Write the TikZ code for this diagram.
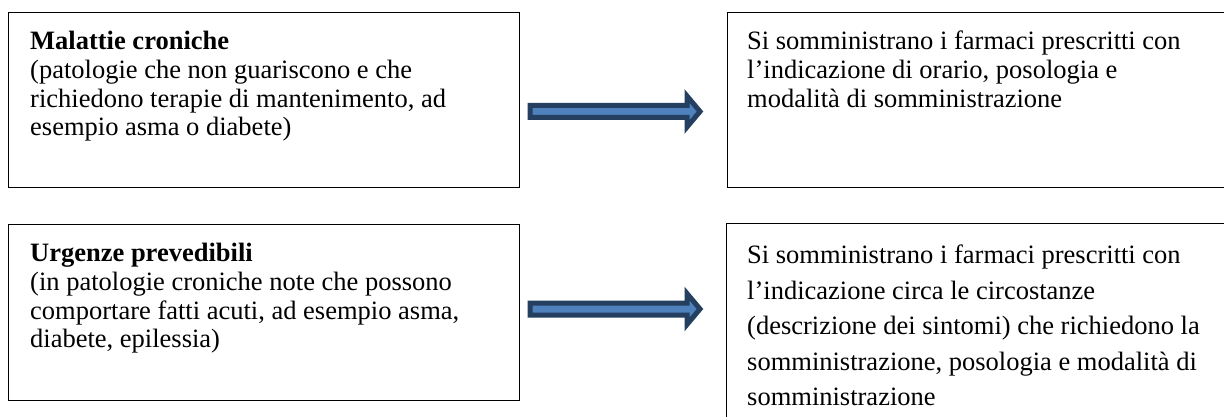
\documentclass[tikz,border=0pt]{standalone}
\usepackage{fontspec}
\setmainfont{Liberation Serif}
\begin{document}
\begin{tikzpicture}[x=1pt,y=-1pt,
  box/.style={draw=black,line width=1.4pt,rectangle,inner sep=0pt},
  txt/.style={anchor=north west,inner sep=0pt,align=left,
    font=\fontsize{26.5}{28.8}\selectfont},
  txtwide/.style={txt,font=\fontsize{26.5}{35.5}\selectfont},
  bigarrow/.style={draw=arrowline,fill=arrowfill,line width=5pt,line join=miter,miter limit=20}]
\definecolor{arrowfill}{HTML}{4F81BD}
\definecolor{arrowline}{HTML}{243F60}
\useasboundingbox (0,0) rectangle (1224,417);
\clip (0,0) rectangle (1224,417);
\fill[white] (0,0) rectangle (1224,417);
% boxes
\node[box,minimum width=511pt,minimum height=175pt,anchor=north west] (b1) at (8,12) {};
\node[box,minimum width=520pt,minimum height=175pt,anchor=north west] (b2) at (727,12) {};
\node[box,minimum width=511pt,minimum height=176pt,anchor=north west] (b3) at (8,224) {};
\node[box,minimum width=520pt,minimum height=230pt,anchor=north west] (b4) at (726,223) {};
% texts
\node[txt] (t1) at ([xshift=22pt,yshift=-19pt]b1.north west)
  {\textbf{Malattie croniche}\\(patologie che non guariscono e che\\richiedono terapie di mantenimento, ad\\esempio asma o diabete)};
\node[txt] (t2) at ([xshift=20pt,yshift=-19pt]b2.north west)
  {Si somministrano i farmaci prescritti con\\l’indicazione di orario, posologia e\\modalità di somministrazione};
\node[txt] (t3) at ([xshift=22pt,yshift=-19pt]b3.north west)
  {\textbf{Urgenze prevedibili}\\(in patologie croniche note che possono\\comportare fatti acuti, ad esempio asma,\\diabete, epilessia)};
\node[txtwide] (t4) at ([xshift=21pt,yshift=-22pt]b4.north west)
  {Si somministrano i farmaci prescritti con\\l’indicazione circa le circostanze\\(descrizione dei sintomi) che richiedono la\\somministrazione, posologia e modalità di\\somministrazione};
% arrows
\coordinate (a1) at (530,111.5);
\coordinate (a2) at (530,309);
\foreach \a in {a1,a2}{
  \draw[bigarrow] (\a) ++(0,-6) -- ++(157,0) -- ++(0,-9.5) -- ++(13,15.5) -- ++(-13,15.5) -- ++(0,-9.5) -- ++(-157,0) -- cycle;
}
\end{tikzpicture}
\end{document}
